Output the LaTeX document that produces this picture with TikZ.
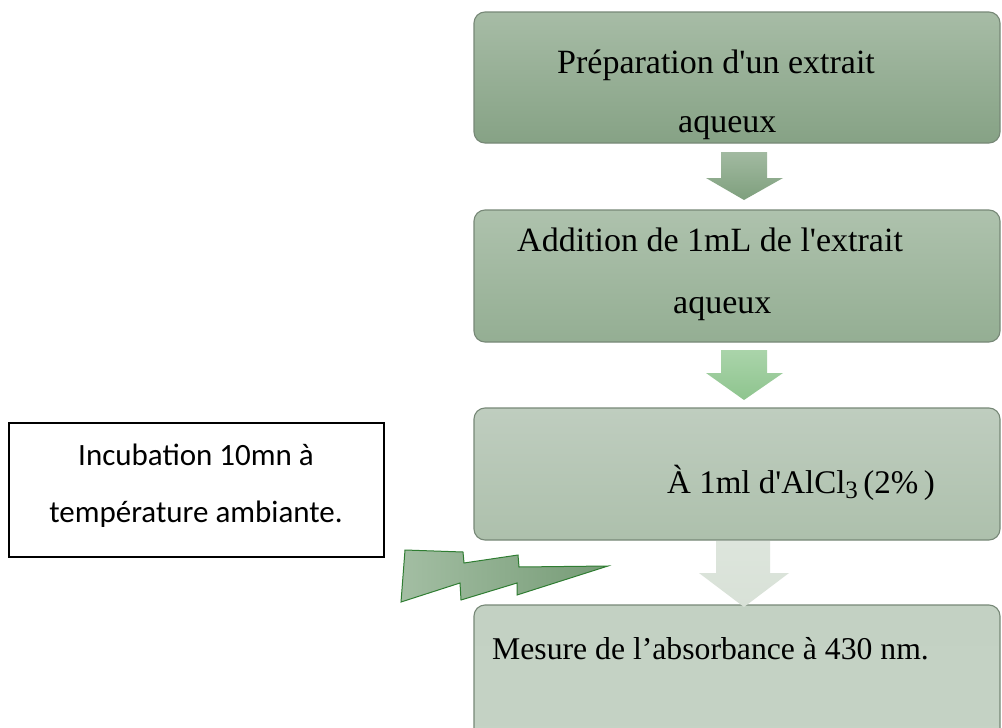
\documentclass[tikz,border=0pt]{standalone}
\usepackage{fontspec}
\setmainfont{Liberation Serif}[Ligatures=TeXOff]
\newfontfamily\calib{Carlito}
\begin{document}
\begin{tikzpicture}[x=1pt,y=-1pt,
  stepbox/.style={draw=boxline, line width=1.1pt, rounded corners=11pt, minimum width=526pt, inner sep=0pt},
  serif/.style={font=\fontsize{34}{40}\selectfont, inner sep=0pt, text=black},
  calibtxt/.style={font=\calib\fontsize{31}{36}\selectfont, inner sep=0pt, text=black}]
\definecolor{boxline}{HTML}{778877}
\definecolor{bAt}{HTML}{A7BCA6}\definecolor{bAb}{HTML}{86A285}
\definecolor{bBt}{HTML}{AEC2AD}\definecolor{bBb}{HTML}{94AE93}
\definecolor{bCt}{HTML}{BFCDBF}\definecolor{bCb}{HTML}{ADC0AC}
\definecolor{bDt}{HTML}{C3D1C3}\definecolor{bDb}{HTML}{C5D3C5}
\definecolor{aAt}{HTML}{A2BAA1}\definecolor{aAb}{HTML}{7E9F7D}
\definecolor{aBt}{HTML}{AAD4AA}\definecolor{aBb}{HTML}{8EC48E}
\definecolor{aCt}{HTML}{DDE5DC}\definecolor{aCb}{HTML}{D8E1D7}
\definecolor{boltL}{HTML}{A3BEA3}\definecolor{boltR}{HTML}{769B76}
\definecolor{boltline}{HTML}{2F7D32}
\useasboundingbox (0,0) rectangle (1002,728);
\clip (0,0) rectangle (1002,728);
\fill[white] (0,0) rectangle (1002,728);
% boxes
\node[stepbox, minimum height=131pt, top color=bAt, bottom color=bAb] (b1) at (737,77.5) {};
\node[stepbox, minimum height=132pt, top color=bBt, bottom color=bBb] (b2) at (737,276) {};
\node[stepbox, minimum height=132pt, top color=bCt, bottom color=bCb] (b3) at (737,474) {};
\node[stepbox, minimum height=160pt, top color=bDt, bottom color=bDb] (b4) at (737,685) {};
% block arrows
\shade[top color=aAt, bottom color=aAb] (721,152) -- (767,152) -- (767,178) -- (783,178) -- (744,200) -- (706,178) -- (721,178) -- cycle;
\shade[top color=aBt, bottom color=aBb] (721,350) -- (767,350) -- (767,373) -- (783,373) -- (744,400) -- (706,373) -- (721,373) -- cycle;
\shade[top color=aCt, bottom color=aCb] (716,541) -- (770,541) -- (770,573) -- (789,573) -- (744,607) -- (699,573) -- (716,573) -- cycle;
% texts
\node[serif, anchor=base west] (t1a) at (557,73) {Préparation d'un extrait};
\node[serif, anchor=base west] (t1b) at (678,132) {aqueux};
\node[serif, anchor=base west] (t2a) at (517,251) {Addition de 1mL de l'extrait};
\node[serif, anchor=base west] (t2b) at (673,313) {aqueux};
\node[serif, font=\fontsize{33}{40}\selectfont, anchor=base west] (t3) at (667,493) {À 1ml d'AlCl{\fontsize{25}{30}\selectfont\raisebox{-5pt}{3}}\,(2\%\,)};
\node[serif, font=\fontsize{31.7}{38}\selectfont, anchor=base west] (t4) at (492,659) {Mesure de l’absorbance à 430 nm.};
% incubation box
\node[draw=black, line width=1.6pt, minimum width=375pt, minimum height=134pt, inner sep=0pt] (inc) at (196.5,490) {};
\node[calibtxt, anchor=base] (inc1) at (196,465) {Incubation 10mn à};
\node[calibtxt, anchor=base] (inc2) at (196,522) {température ambiante.};
% lightning bolt
\shade[draw=boltline, line width=1pt, left color=boltL, right color=boltR]
  (405,550) -- (463,552) -- (464,563) -- (518,555) -- (519,567) -- (608,566)
  -- (517,595) -- (517,583) -- (461,600) -- (460,583) -- (401,602) -- cycle;
\end{tikzpicture}
\end{document}
